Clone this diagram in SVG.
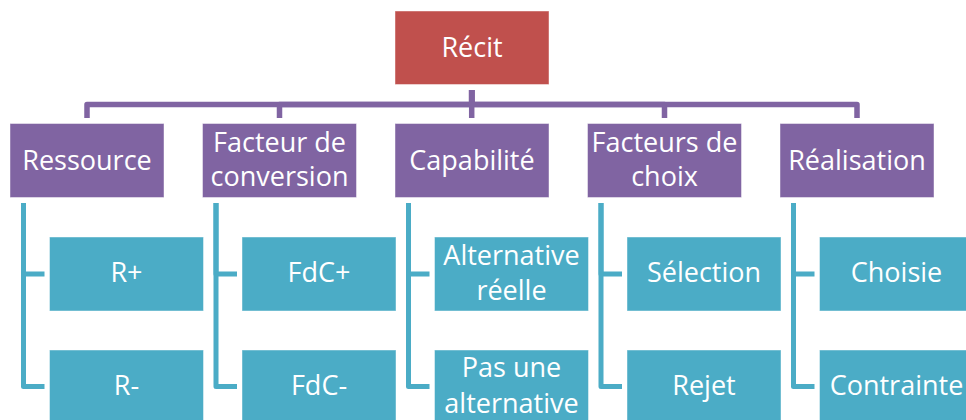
<svg xmlns="http://www.w3.org/2000/svg" width="966" height="420" viewBox="0 0 966 420">
<style>
.box{stroke:#ffffff;stroke-opacity:0.45;stroke-width:1}
.red{fill:#C0504D}
.pur{fill:#8064A2}
.teal{fill:#4BACC6}
.t{font-family:"Open Sans","Noto Sans","Liberation Sans",sans-serif;font-size:27px;fill:#ffffff;text-anchor:middle}
.pc{fill:none;stroke:#8064A2;stroke-width:5.5;stroke-linejoin:round}
.tc{fill:none;stroke:#4BACC6;stroke-width:5;stroke-linejoin:round}
</style>
<rect width="966" height="420" fill="#ffffff"/>
<g id="connectors">
<path class="pc" d="M471.7 90 V104.5 H87 V118"/>
<path class="pc" d="M471.7 90 V104.5 H279.5 V118"/>
<path class="pc" d="M471.7 90 V118"/>
<path class="pc" d="M471.7 90 V104.5 H664.5 V118"/>
<path class="pc" d="M471.7 90 V104.5 H857 V118"/>
<path class="tc" d="M23.5 203 V274 H44.5"/>
<path class="tc" d="M23.5 203 V386.5 H44.5"/>
<path class="tc" d="M216 203 V274 H237"/>
<path class="tc" d="M216 203 V386.5 H237"/>
<path class="tc" d="M408.5 203 V274 H429.5"/>
<path class="tc" d="M408.5 203 V386.5 H429.5"/>
<path class="tc" d="M601 203 V274 H622"/>
<path class="tc" d="M601 203 V386.5 H622"/>
<path class="tc" d="M793.5 203 V274 H814.5"/>
<path class="tc" d="M793.5 203 V386.5 H814.5"/>
</g>
<g id="recit"><rect class="box red" x="395" y="11" width="154" height="73.5"/><text class="t" x="472" y="57">Récit</text></g>
<g id="ressource"><rect class="box pur" x="10" y="123.5" width="154" height="74"/><text class="t" x="87" y="170">Ressource</text></g>
<g id="facteur-conversion"><rect class="box pur" x="202.5" y="123.5" width="154" height="74"/><text class="t" x="279.5" y="152">Facteur de</text><text class="t" x="279.5" y="186">conversion</text></g>
<g id="capabilite"><rect class="box pur" x="395" y="123.5" width="154" height="74"/><text class="t" x="472" y="170">Capabilité</text></g>
<g id="facteurs-choix"><rect class="box pur" x="587.5" y="123.5" width="154" height="74"/><text class="t" x="664.5" y="152">Facteurs de</text><text class="t" x="664.5" y="186">choix</text></g>
<g id="realisation"><rect class="box pur" x="780" y="123.5" width="154" height="74"/><text class="t" x="857" y="170">Réalisation</text></g>
<g id="r-plus"><rect class="box teal" x="49.5" y="237" width="154" height="74"/><text class="t" x="126.5" y="282">R+</text></g>
<g id="r-minus"><rect class="box teal" x="49.5" y="350" width="154" height="74"/><text class="t" x="126.5" y="395">R-</text></g>
<g id="fdc-plus"><rect class="box teal" x="242" y="237" width="154" height="74"/><text class="t" x="319" y="282">FdC+</text></g>
<g id="fdc-minus"><rect class="box teal" x="242" y="350" width="154" height="74"/><text class="t" x="319" y="395">FdC-</text></g>
<g id="alt-reelle"><rect class="box teal" x="434.5" y="237" width="154" height="74"/><text class="t" x="511.5" y="264.5">Alternative</text><text class="t" x="511.5" y="299.5">réelle</text></g>
<g id="pas-alt"><rect class="box teal" x="434.5" y="350" width="154" height="74"/><text class="t" x="511.5" y="377">Pas une</text><text class="t" x="511.5" y="413">alternative</text></g>
<g id="selection"><rect class="box teal" x="627" y="237" width="154" height="74"/><text class="t" x="704" y="282">Sélection</text></g>
<g id="rejet"><rect class="box teal" x="627" y="350" width="154" height="74"/><text class="t" x="704" y="395">Rejet</text></g>
<g id="choisie"><rect class="box teal" x="819.5" y="237" width="154" height="74"/><text class="t" x="896.5" y="282">Choisie</text></g>
<g id="contrainte"><rect class="box teal" x="819.5" y="350" width="154" height="74"/><text class="t" x="896.5" y="395">Contrainte</text></g>
</svg>
